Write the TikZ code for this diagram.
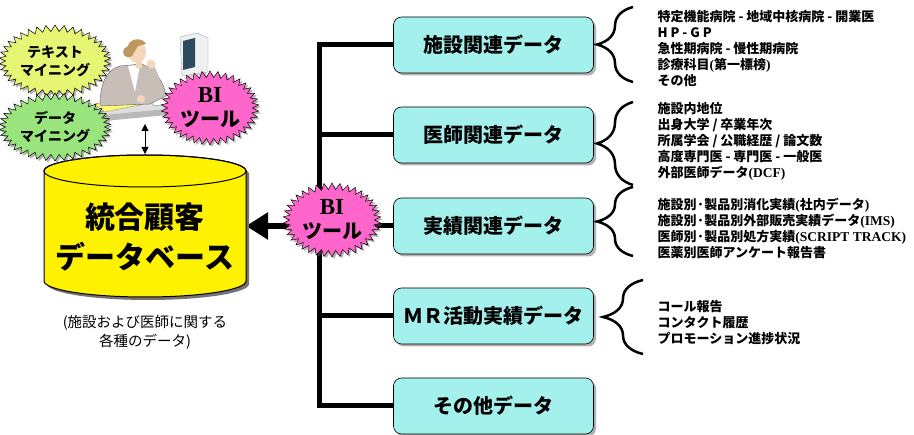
\documentclass[tikz,border=0pt]{standalone}
\usepackage{fontspec}
\setmainfont{Noto Sans CJK JP}
\newfontfamily\tnr{Liberation Serif}
\usetikzlibrary{arrows.meta, positioning, shapes.symbols, shadows, decorations.pathreplacing}

\definecolor{boxcyan}{RGB}{163,240,236}
\definecolor{starpink}{RGB}{255,102,204}
\definecolor{staryg}{RGB}{230,245,115}
\definecolor{stargreen}{RGB}{153,228,125}
\definecolor{jacket}{RGB}{200,190,184}
\definecolor{skin}{RGB}{245,214,186}
\definecolor{hair}{RGB}{190,150,95}
\definecolor{screen}{RGB}{45,75,95}

% serif parts inside the lists
\newcommand{\rom}[1]{{\tnr\fontsize{13.5}{16}\selectfont #1}}

\tikzset{
  databox/.style={rectangle, rounded corners=8pt, fill=boxcyan, draw=black, line width=0.6pt,
    minimum width=200pt, minimum height=56pt, font=\bfseries\fontsize{20}{24}\selectfont,
    drop shadow={shadow xshift=2.5pt, shadow yshift=-2.5pt, fill=black!60}},
  burst/.style={starburst, starburst points=38, starburst point height=6.5pt, random starburst=0,
    draw=black, line width=0.5pt, inner sep=0pt, minimum width=96pt, minimum height=74pt,
    align=center, drop shadow={shadow xshift=2pt, shadow yshift=-2pt, fill=black!60}},
  trunk/.style={line width=5pt},
  items/.style={anchor=west, align=left, font=\bfseries\fontsize{13}{16}\selectfont},
  curly/.style={decorate, decoration={brace, amplitude=#1}, line width=2.5pt},
}

\begin{document}
\begin{tikzpicture}[x=1pt, y=-1pt]
  \useasboundingbox (0,0) rectangle (914,435);

  % data boxes
  \node[databox] (b1) at (493.5,45) {施設関連データ};
  \node[databox] (b2) at (493.5,135) {医師関連データ};
  \node[databox] (b3) at (493.5,226) {実績関連データ};
  \node[databox] (b4) at (493.5,316) {ＭＲ活動実績データ};
  \node[databox] (b5) at (493.5,406) {その他データ};

  % trunk and branches
  \coordinate (hub) at (319,226);
  \coordinate (db) at (246,226);
  \draw[trunk] (b1.west) -| (hub) |- (b5.west);
  \foreach \b in {b2,b3,b4}
    \draw[trunk] (\b.west) -- (\b.west -| hub);
  \draw[line width=6pt, -{Triangle[length=22pt,width=26pt]}] (hub) -- (db);

  % database cylinder
  \fill[black!55] (47,174) -- (47,284) arc[start angle=180, end angle=0, x radius=101, y radius=16]
    -- (249,174) arc[start angle=0, end angle=-180, x radius=101, y radius=16] -- cycle;
  \filldraw[fill=yellow, line width=1pt] (44,171) -- (44,281)
    arc[start angle=180, end angle=0, x radius=101, y radius=16]
    -- (246,171) arc[start angle=0, end angle=-180, x radius=101, y radius=16] -- cycle;
  \draw[line width=1pt] (145,171) ellipse[x radius=101, y radius=16];
  \node[align=center, font=\bfseries\fontsize{30}{40}\selectfont] (dbname) at (145,237) {統合顧客\\データベース};
  \node[align=center, font=\fontsize{14.5}{19}\selectfont] (dbnote) at (145,332) {(施設および医師に関する\\各種のデータ)};

  % desk, monitor and user
  \fill[gray!25] (96,103) -- (226,93) -- (231,103) -- (102,115) -- cycle;
  \fill[gray!55] (102,115) -- (231,103) -- (231,109) -- (104,121) -- cycle;
  \filldraw[fill=yellow!55, draw=black!50, line width=0.3pt] (94,104) -- (126,99) -- (140,105) -- (104,112) -- cycle;
  \filldraw[fill=white, draw=gray, line width=0.4pt] (148,98) -- (190,92) -- (196,99) -- (154,106) -- cycle;
  \filldraw[fill=gray!30, draw=gray!70, line width=0.4pt] (186,75) -- (205,72) -- (208,80) -- (189,83) -- cycle;
  \filldraw[fill=gray!12, draw=gray!70, line width=0.4pt] (180,37) -- (197,33) -- (208,38) -- (208,72) -- (182,76) -- cycle;
  \fill[screen] (183,41) -- (195,38) -- (195,67) -- (183,70) -- cycle;
  \filldraw[fill=jacket, draw=black!60, line width=0.4pt] (100,106) .. controls (100,84) and (106,70) .. (120,66)
    -- (142,64) .. controls (156,70) and (164,82) .. (166,96) -- (150,104) -- cycle;
  \fill[white] (128,66) -- (140,65) -- (135,92) -- cycle;
  \draw[jacket, line width=8pt, line cap=round] (160,92) -- (152,70);
  \draw[jacket, line width=8pt, line cap=round] (114,82) -- (136,98);
  \fill[skin] (151,64) circle[radius=4.5];
  \fill[skin] (141,99) circle[radius=4];
  \fill[skin] (136,62) rectangle (142,68);
  \fill[skin] (137,52) ellipse[x radius=9, y radius=11];
  \fill[hair] (128,46) .. controls (130,38) and (142,37) .. (146,44) -- (138,46) -- (132,56)
    .. controls (126,60) and (121,54) .. (124,49) -- cycle;

  % bursts
  \node[burst, fill=staryg, font=\bfseries\fontsize{14}{18}\selectfont, minimum height=72pt] (tm) at (55,61) {テキスト\\マイニング};
  \node[burst, fill=stargreen, font=\bfseries\fontsize{14}{18}\selectfont, minimum height=68pt] (dm) at (55,127) {データ\\マイニング};
  \node[burst, fill=starpink, font=\bfseries\fontsize{20}{24}\selectfont] (bi1) at (210,108) {{\tnr\fontsize{23}{24}\selectfont BI}\\ツール};
  \node[burst, fill=starpink, font=\bfseries\fontsize{20}{24}\selectfont] (bi2) at (332,220) {{\tnr\fontsize{23}{24}\selectfont BI}\\ツール};

  % desk to database
  \coordinate (deskfoot) at (145,124);
  \coordinate (dbtop) at (145,154);
  \draw[line width=1pt, {Triangle[length=7pt,width=7pt]}-{Triangle[length=7pt,width=7pt]}] (deskfoot) -- (dbtop);

  % braces with item lists
  \draw[curly=36pt] (633,82) -- (633,7);
  \draw[curly=36pt] (633,185) -- (633,102);
  \draw[curly=36pt] (633,256) -- (633,187);
  \draw[curly=40pt] (643,354) -- (643,280);

  \node[items] (l1) at (654,48.5) {特定機能病院 - 地域中核病院 - 開業医\\H P - G P\\急性期病院 - 慢性期病院\\診療科目\rom{(}第一標榜\rom{)}\\その他};
  \node[items] (l2) at (654,141.5) {施設内地位\\出身大学 / 卒業年次\\所属学会 / 公職経歴 / 論文数\\高度専門医 - 専門医 - 一般医\\外部医師データ\rom{(DCF)}};
  \node[items] (l3) at (654,228.5) {施設別·製品別消化実績\rom{(}社内データ\rom{)}\\施設別·製品別外部販売実績データ\rom{(IMS)}\\医師別·製品別処方実績\rom{(SCRIPT TRACK)}\\医薬別医師アンケート報告書};
  \node[items] (l4) at (654,322.5) {コール報告\\コンタクト履歴\\プロモーション進捗状況};
\end{tikzpicture}
\end{document}
